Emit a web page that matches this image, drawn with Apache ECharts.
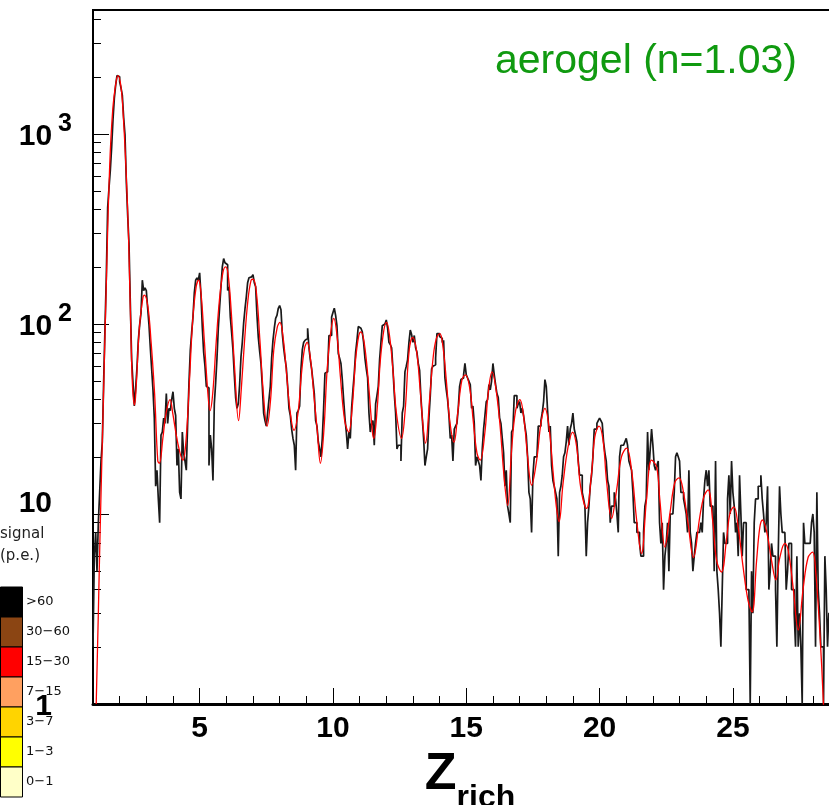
<!DOCTYPE html>
<html>
<head>
<meta charset="utf-8">
<script src="https://cdn.jsdelivr.net/npm/echarts@6/dist/echarts.min.js"></script>
<style>
  html, body { margin: 0; padding: 0; background: #fff; }
  #chart { width: 829px; height: 805px; }
</style>
</head>
<body>
<div id="chart"></div>
<script>
// histogram: 0.05 wide bins starting at Z = 1.0
var binStart = 1.0;
var binWidth = 0.05;
var counts = [
  2, 6, 8, 5, 9, 13, 19, 24, 50, 96, 180, 410, 520, 645, 855, 1190, 1540, 1810, 2030, 2000,
  1880, 1750, 1600, 1220, 990, 560, 375, 265, 128, 65, 49, 37, 46, 59, 82, 99, 114, 170, 150, 155,
  150, 121, 99, 75, 58, 45, 32, 14, 17, 12, 9, 26, 27, 32, 30, 43, 30, 36, 35, 40,
  44, 36, 33, 18, 22, 13, 12, 27, 21, 19, 17, 30, 49, 73, 90, 109, 146, 170, 175, 170,
  186, 142, 96, 71, 60, 47, 46, 18, 26, 22, 15, 38, 49, 66, 95, 123, 157, 200, 221, 210,
  205, 150, 157, 109, 90, 73, 54, 41, 36, 38, 48, 67, 80, 101, 120, 139, 165, 175, 177, 180,
  182, 165, 157, 111, 85, 72, 62, 47, 34, 31, 29, 34, 40, 47, 66, 82, 95, 107, 111, 121,
  125, 119, 89, 75, 66, 59, 47, 36, 33, 28, 25, 23, 17, 34, 35, 37, 58, 73, 80, 82,
  84, 95, 75, 65, 58, 50, 43, 31, 29, 24, 22, 20, 25, 36, 55, 56, 56, 87, 87, 109,
  115, 121, 111, 98, 70, 66, 62, 51, 40, 32, 27, 22, 27, 25, 36, 45, 55, 71, 82, 97,
  95, 93, 91, 80, 66, 58, 52, 34, 27, 30, 31, 23, 38, 42, 47, 65, 80, 98, 100, 101,
  105, 95, 80, 78, 75, 58, 43, 34, 22, 23, 23, 19, 34, 37, 56, 60, 65, 80, 93, 88,
  80, 87, 75, 71, 62, 57, 41, 32, 25, 18, 20, 22, 32, 42, 58, 60, 61, 66, 89, 89,
  86, 84, 80, 82, 52, 45, 40, 33, 25, 26, 19, 28, 29, 30, 36, 47, 51, 52, 54, 62,
  54, 52, 50, 48, 36, 37, 30, 18, 20, 19, 18, 15, 22, 28, 33, 39, 40, 48, 45, 50,
  62, 54, 48, 43, 41, 32, 30, 25, 21, 14, 17, 11, 10, 9, 27, 28, 42, 42, 36, 38,
  39, 34, 36, 33, 29, 26, 20, 13, 12, 8, 16, 20, 20, 20, 29, 29, 31, 34, 39, 51,
  47, 35, 27, 29, 18, 15, 14, 13, 12, 6, 13, 14, 16, 20, 21, 24, 29, 23, 28, 30,
  34, 28, 26, 24, 19, 16, 16, 13, 12, 11, 6, 9, 11, 14, 16, 20, 28, 28, 30, 31,
  32, 31, 30, 24, 21, 19, 15, 14, 9, 11, 11, 13, 12, 10, 8, 20, 23, 23, 23, 24,
  25, 23, 19, 18, 17, 13, 9, 9, 8, 8, 7, 6, 6, 8, 11, 12, 27, 17, 22, 28,
  23, 18, 17, 18, 19, 9, 7, 9, 4, 6, 7, 9, 5, 10, 10, 10, 13, 20, 21, 20,
  19, 13, 13, 12, 11, 10, 8, 17, 8, 7, 5, 6, 7, 8, 8, 8, 9, 8, 12, 15,
  17, 14, 17, 11, 11, 11, 5, 19, 5, 4, 3, 2, 4, 8, 7, 7, 12, 16, 10, 19,
  13, 11, 8, 9, 6, 16, 10, 6, 9, 9, 4, 4, 4, 1, 5, 3, 9, 12, 12, 14,
  14, 16, 12, 10, 8, 9, 14, 4, 5, 7, 6, 6, 4, 2, 6, 14, 10, 8, 8, 8,
  4, 5, 7, 7, 4, 4, 3, 2, 6, 2, 3, 2, 1, 9, 7, 7, 7, 7, 7, 9,
  10, 8, 2, 13, 4, 3, 2, 2, 1, 6, 4, 2, 3
];

// fitted curve
var fitX = [
  1.12, 1.2, 1.27, 1.37, 1.49, 1.62, 1.74, 1.87, 1.94, 2.05, 2.14, 2.24, 2.34, 2.43, 2.49, 2.56, 2.62, 2.74, 2.87, 2.93,
  3.06, 3.18, 3.31, 3.43, 3.49, 3.62, 3.74, 3.89, 3.99, 4.18, 4.37, 4.49, 4.62, 4.74, 4.87, 4.96, 5.05, 5.18, 5.31, 5.39,
  5.49, 5.62, 5.74, 5.87, 5.97, 6.06, 6.18, 6.31, 6.46, 6.56, 6.68, 6.81, 6.93, 7.01, 7.13, 7.26, 7.38, 7.53, 7.66, 7.78,
  7.91, 8.01, 8.13, 8.26, 8.38, 8.54, 8.69, 8.82, 8.94, 9.03, 9.16, 9.28, 9.41, 9.53, 9.66, 9.78, 9.91, 10.03, 10.16, 10.28,
  10.44, 10.59, 10.72, 10.85, 10.97, 11.05, 11.17, 11.32, 11.48, 11.53, 11.66, 11.78, 11.91, 12.01, 12.13, 12.26, 12.38, 12.57, 12.70, 12.86,
  12.99, 13.13, 13.26, 13.38, 13.47, 13.63, 13.76, 13.88, 14.01, 14.13, 14.26, 14.38, 14.54, 14.69, 14.84, 14.97, 15.13, 15.26, 15.40, 15.52,
  15.70, 15.82, 15.97, 16.10, 16.26, 16.42, 16.55, 16.70, 16.85, 17.01, 17.17, 17.30, 17.45, 17.64, 17.80, 17.95, 18.10, 18.26, 18.38, 18.48,
  18.63, 18.82, 18.99, 19.14, 19.29, 19.51, 19.70, 19.82, 19.98, 20.13, 20.26, 20.45, 20.64, 20.82, 21.01, 21.20, 21.39, 21.57, 21.76, 21.95,
  22.14, 22.26, 22.45, 22.64, 22.82, 22.98, 23.13, 23.32, 23.52, 23.76, 23.91, 24.07, 24.24, 24.39, 24.57, 24.76, 24.89, 25.04, 25.20, 25.38,
  25.57, 25.72, 25.89, 26.01, 26.11, 26.28, 26.45, 26.61, 26.76, 26.95, 27.07, 27.26, 27.45, 27.64, 27.82, 27.99, 28.11, 28.26, 28.39, 28.45
];
var fitY = [
  1, 3, 8.5, 31, 146, 645, 1340, 1900, 2030, 1770, 1220, 645, 265, 80, 45, 37.5, 47, 96, 137, 142,
  123, 80, 43, 19, 18.5, 25, 34, 40, 34, 23.6, 19.2, 24.5, 51, 105, 157, 170, 146, 80, 43, 35,
  43, 80, 133, 186, 200, 186, 119, 59, 31, 45, 80, 133, 170, 172, 146, 82, 45, 29, 40, 73,
  96, 102, 85, 55, 36, 27.6, 34, 55, 75, 80, 65, 43, 27.6, 18.5, 27.6, 57, 89, 107, 85, 52.6,
  31, 27, 36, 65, 87, 91, 80, 51, 27, 25, 36, 65, 93, 102, 85, 55, 34, 25, 34, 73,
  85, 73, 47, 29, 23.6, 41, 67, 84, 89, 75, 49, 31, 23.9, 35, 51, 54, 46, 31, 21, 19.2,
  27, 43, 56, 47, 30, 15.6, 11.1, 21.7, 35, 40, 31, 20, 14.2, 19.2, 30, 36, 29, 16.4, 10.9, 9.1,
  14.5, 22.6, 27, 22.6, 13.9, 10.7, 16.4, 25.4, 29, 24.5, 15, 9.5, 13.4, 20, 22.2, 17, 9.3, 6.2, 11.9, 19.2,
  17.7, 11.9, 6.7, 10.1, 14.6, 15.5, 13.4, 8.9, 5.9, 9.7, 12.3, 13.4, 9.3, 5.7, 4.95, 7.3, 10.1, 10.9, 8.5, 5.3,
  3.5, 3.05, 5.7, 8.5, 9.3, 7.9, 5.7, 4.5, 5.9, 7.0, 6.5, 4.1, 2.45, 4.1, 5.9, 6.3, 4.9, 2.4, 1.05, 0.6
];

var xLabelValues = [5, 10, 15, 20, 25];
var xMinorTicks = [2, 3, 4, 6, 7, 8, 9, 11, 12, 13, 14, 16, 17, 18, 19, 21, 22, 23, 24, 26, 27, 28];
var yLabelValues = [1, 10, 100, 1000];
var yMajorTicks = [10, 100, 1000];
var yMinorTicks = [2, 3, 4, 5, 6, 7, 8, 9, 20, 30, 40, 50, 60, 70, 80, 90,
  200, 300, 400, 500, 600, 700, 800, 900, 2000, 3000, 4000];

var legendTitle = ['signal', '(p.e.)'];
var legendLabels = ['>60', '30\u221260', '15\u221230', '7\u221215', '3\u22127', '1\u22123', '0\u22121'];
var legendColors = ['#000000', '#8b4513', '#ff0000', '#ffa060', '#ffd400', '#ffff00', '#ffffc8'];

var chart = echarts.init(document.getElementById('chart'));
var font = 'Liberation Sans';

var histData = counts.map(function (c, i) { return [binStart + i * binWidth, c]; });
histData.push([binStart + counts.length * binWidth, counts[counts.length - 1]]);
var fitData = fitX.map(function (x, i) { return [x, fitY[i]]; });

var legendGraphics = [];
legendTitle.forEach(function (t, i) {
  legendGraphics.push({
    type: 'text', left: 0, top: 527 + i * 22,
    style: { text: t, font: '15px "DejaVu Sans"', fill: '#222' }
  });
});
legendLabels.forEach(function (t, i) {
  legendGraphics.push({
    type: 'rect', shape: { x: 0.5, y: 587 + i * 30, width: 22, height: 30 },
    style: { fill: legendColors[i], stroke: '#000', lineWidth: 1 }
  });
  legendGraphics.push({
    type: 'text', x: 26, y: 602 + i * 30,
    style: { text: t, font: '13px "DejaVu Sans"', fill: '#111', textVerticalAlign: 'middle' }
  });
});
legendGraphics.push({
  type: 'text', x: 797, y: 62,
  style: { text: 'aerogel (n=1.03)', font: '41px "Liberation Sans"', fill: '#109a10',
    textAlign: 'right', textVerticalAlign: 'middle' }
});

var option = {
  animation: false,
  grid: {
    left: 93, right: -2, top: 10, bottom: 101,
    outerBoundsMode: 'none', containLabel: false,
    show: true, borderColor: '#000', borderWidth: 2
  },
  xAxis: [{
    type: 'value', min: 1, max: 28.68,
    axisLine: { show: true, lineStyle: { color: '#000', width: 3 } },
    axisTick: { show: true, inside: true, length: 16, customValues: xLabelValues,
      lineStyle: { color: '#000', width: 1 } },
    axisLabel: { customValues: xLabelValues, margin: 10, fontSize: 30, fontWeight: 'bold',
      color: '#000', fontFamily: font },
    splitLine: { show: false },
    name: '{z|Z}{s|rich}', nameLocation: 'middle', nameGap: 50,
    nameTextStyle: {
      padding: [0, 0, 0, 16],
      rich: {
        z: { fontSize: 52, fontWeight: 'bold', fontFamily: font, color: '#000',
          lineHeight: 52, verticalAlign: 'bottom', padding: [0, 0, 13, 0] },
        s: { fontSize: 32, fontWeight: 'bold', fontFamily: font, color: '#000',
          lineHeight: 32, verticalAlign: 'bottom' }
      }
    }
  }, {
    type: 'value', min: 1, max: 28.68, position: 'bottom',
    axisLine: { show: false },
    axisTick: { show: true, inside: true, length: 8, customValues: xMinorTicks,
      lineStyle: { color: '#000', width: 1 } },
    axisLabel: { show: false },
    splitLine: { show: false }
  }],
  yAxis: [{
    type: 'log', logBase: 10, min: 1, max: 4494,
    axisLine: { show: true, lineStyle: { color: '#000', width: 2 } },
    axisTick: { show: true, inside: true, length: 16, customValues: yMajorTicks,
      lineStyle: { color: '#000', width: 1 } },
    axisLabel: {
      customValues: yLabelValues, margin: 21, padding: [24, 0, 0, 0],
      formatter: function (v) {
        if (v === 1) return '{b|1}{sp| }';
        if (v === 10) return '{t|10}{sp| }';
        return '{b|10}{e|' + Math.round(Math.log10(v)) + '}';
      },
      rich: {
        b: { fontSize: 30, fontWeight: 'bold', fontFamily: font, color: '#000',
          lineHeight: 30, verticalAlign: 'bottom', padding: [0, 0, 9, 0] },
        t: { fontSize: 30, fontWeight: 'bold', fontFamily: font, color: '#000',
          lineHeight: 30, verticalAlign: 'bottom', padding: [0, 0, 22, 0] },
        e: { fontSize: 25, fontWeight: 'bold', fontFamily: font, color: '#000',
          lineHeight: 25, verticalAlign: 'bottom', padding: [0, 0, 24, 6] },
        sp: { width: 20 }
      }
    },
    splitLine: { show: false }
  }, {
    type: 'log', logBase: 10, min: 1, max: 4494, position: 'left',
    axisLine: { show: false },
    axisTick: { show: true, inside: true, length: 8, customValues: yMinorTicks,
      lineStyle: { color: '#000', width: 1 } },
    axisLabel: { show: false },
    splitLine: { show: false }
  }],
  graphic: legendGraphics,
  series: [{
    name: 'data', type: 'line', step: 'end', data: histData,
    symbol: 'none', clip: true,
    lineStyle: { color: '#1a1a1a', width: 1.7 }
  }, {
    name: 'fit', type: 'line', data: fitData, smooth: 0.4,
    symbol: 'none', clip: true,
    lineStyle: { color: '#ff0000', width: 1.3 }
  }]
};

chart.setOption(option);
</script>
</body>
</html>
